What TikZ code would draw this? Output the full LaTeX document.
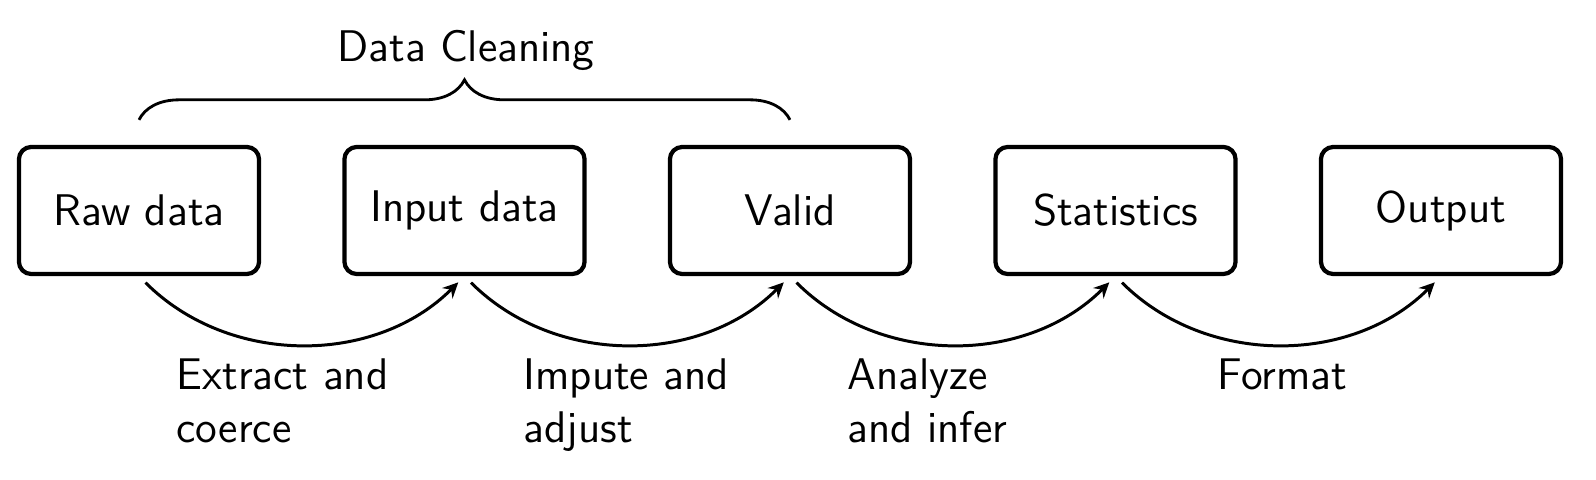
\documentclass[tikz,border=0pt]{standalone}
\usetikzlibrary{arrows.meta,decorations.pathreplacing,calc}
\begin{document}
\begin{tikzpicture}[x=0.01cm,y=-0.01cm,
  txt/.style={font=\sffamily\fontsize{12.6}{15.1}\selectfont},
  stage/.style={txt, draw, very thick, rounded corners=3.5pt, minimum width=2.4cm, minimum height=1.27cm},
  conn/.style={line width=0.85pt, -{Stealth[length=4.4pt,width=4.2pt,inset=1.5pt]}, shorten <=2.6pt, shorten >=2.5pt},
  lbl/.style={txt, inner sep=0pt, anchor=base west, align=left}]
\useasboundingbox (0,0) rectangle (1596,480);
\node[stage] (raw) at (139,210.5) {Raw data};
\node[stage] (input) at (464.5,210.5) {Input data};
\node[stage] (valid) at (790,210.5) {Valid};
\node[stage] (stats) at (1115.5,210.5) {Statistics};
\node[stage] (out) at (1441,210.5) {Output};
\draw[conn] (raw.south) to[out=-45,in=-135] (input.south);
\draw[conn] (input.south) to[out=-45,in=-135] (valid.south);
\draw[conn] (valid.south) to[out=-45,in=-135] (stats.south);
\draw[conn] (stats.south) to[out=-45,in=-135] (out.south);
\node[lbl] (l1) at (176,443) {Extract and\\coerce};
\node[lbl] (l2) at (523,443) {Impute and\\adjust};
\node[lbl] (l3) at (847,443) {Analyze\\and infer};
\node[lbl] (l4) at (1217,390) {Format};
\draw[thick, decorate, decoration={brace, amplitude=0.4cm}] ($(raw.north)+(0,-25)$) coordinate (b1) -- ($(valid.north)+(0,-25)$) coordinate (b2);
\node[txt, anchor=base, inner sep=0pt] (dc) at (466,62) {Data Cleaning};
\end{tikzpicture}
\end{document}
